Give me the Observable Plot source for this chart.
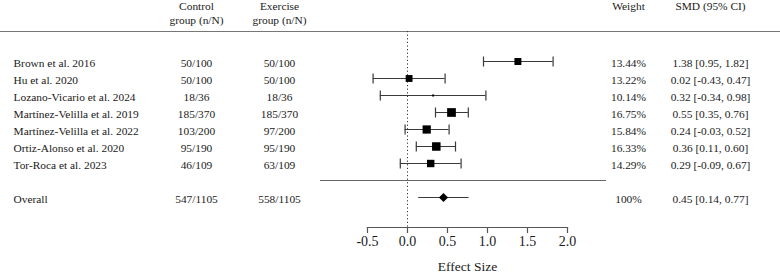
<!DOCTYPE html>
<html>
<head>
<meta charset="utf-8">
<script src="https://cdn.jsdelivr.net/npm/d3@7"></script>
<script src="https://cdn.jsdelivr.net/npm/@observablehq/plot@0.6"></script>
<style>
  html, body { margin: 0; padding: 0; background: #fff; }
  #chart { width: 780px; height: 274px; }
  #chart svg, #chart svg text { font-family: "Liberation Serif", "Times New Roman", serif !important; }
</style>
</head>
<body>
<div id="chart"></div>
<script>
const studies = ["Brown et al. 2016", "Hu et al. 2020", "Lozano-Vicario et al. 2024", "Martínez-Velilla et al. 2019", "Martínez-Velilla et al. 2022", "Ortiz-Alonso et al. 2020", "Tor-Roca et al. 2023"];
const controlN = ["50/100", "50/100", "18/36", "185/370", "103/200", "95/190", "46/109"];
const exerciseN = ["50/100", "50/100", "18/36", "185/370", "97/200", "95/190", "63/109"];
const weights = [13.44, 13.22, 10.14, 16.75, 15.84, 16.33, 14.29];
const smd = [1.38, 0.02, 0.32, 0.55, 0.24, 0.36, 0.29];
const lower = [0.95, -0.43, -0.34, 0.35, -0.03, 0.11, -0.09];
const upper = [1.82, 0.47, 0.98, 0.76, 0.52, 0.60, 0.67];

const overallLabel = "Overall";
const overallControl = "547/1105";
const overallExercise = "558/1105";
const overallWeight = "100%";
const overallSmd = 0.45;
const overallLower = 0.14;
const overallUpper = 0.77;

const xTicks = [-0.5, 0.0, 0.5, 1.0, 1.5, 2.0];
const xLabel = "Effect Size";
const headerControl = ["Control", "group (n/N)"];
const headerExercise = ["Exercise", "group (n/N)"];
const headerWeight = ["Weight"];
const headerSmd = ["SMD (95% CI)"];

const sepKey = "__sep__";
const fmt2 = v => v.toFixed(2);
const ciText = (m, l, u) => `${fmt2(m)} [${fmt2(l)}, ${fmt2(u)}]`;

const rows = studies.map((s, i) => ({
  label: s, control: controlN[i], exercise: exerciseN[i],
  weight: weights[i], weightText: weights[i].toFixed(2) + "%",
  smd: smd[i], lower: lower[i], upper: upper[i],
  ci: ciText(smd[i], lower[i], upper[i])
}));
const overall = {
  label: overallLabel, control: overallControl, exercise: overallExercise,
  weightText: overallWeight, smd: overallSmd, lower: overallLower, upper: overallUpper,
  ci: ciText(overallSmd, overallLower, overallUpper)
};
const allRows = [...rows, overall];
const yDomain = [...studies, sepKey, overallLabel];

const serif = "Liberation Serif";
const txt = "#1a1a1a";
const lineCol = "#3a3a3a";
const fs = 11.4;

// vertical cap symbol for CI whisker ends
const capSymbol = {draw(ctx) { ctx.moveTo(0, -5); ctx.lineTo(0, 5); }};

const topRule = (index, scales, values, dims) =>
  d3.create("svg:line")
    .attr("x1", 0).attr("x2", dims.width)
    .attr("y1", dims.marginTop + 0.5).attr("y2", dims.marginTop + 0.5)
    .attr("stroke", "#777").attr("stroke-width", 1.2)
    .node();

const colText = (data, field, anchorSide, dx) =>
  Plot.text(data, {y: "label", text: field, frameAnchor: anchorSide, dx, textAnchor: field === "label" ? "start" : "middle", fill: txt, fontSize: fs, fontFamily: serif, dy: 1.5});

const headText = (lines, side, dx, dy) =>
  Plot.text(lines, {text: d => d, frameAnchor: side, dx, dy, textAnchor: "middle", lineAnchor: "middle", fill: txt, fontSize: fs, fontFamily: serif});

const chart = Plot.plot({
  width: 780,
  height: 274,
  marginLeft: 367,
  marginRight: 213,
  marginTop: 31,
  marginBottom: 47,
  style: {fontFamily: serif, fontSize: fs + "px", color: txt, background: "#fff"},
  x: {domain: [-0.5, 2.0], axis: null},
  y: {type: "point", domain: yDomain, range: [50.5, 207.7], axis: null},
  r: {type: "linear", domain: [10, 13, 17], range: [1, 3.8, 5], clamp: true},
  marks: [
    topRule,
    Plot.ruleX([0], {stroke: "#333", strokeDasharray: "1.2,2.4", strokeWidth: 1}),
    Plot.ruleY([sepKey], {y: d => d, insetLeft: -47, insetRight: -39, stroke: "#666", strokeWidth: 1.2}),
    // whiskers
    Plot.ruleY(rows, {y: "label", x1: "lower", x2: "upper", stroke: lineCol, strokeWidth: 1.2}),
    Plot.dot(rows, {y: "label", x: "lower", symbol: capSymbol, r: 3, stroke: lineCol, strokeWidth: 1.2, fill: "none"}),
    Plot.dot(rows, {y: "label", x: "upper", symbol: capSymbol, r: 3, stroke: lineCol, strokeWidth: 1.2, fill: "none"}),
    Plot.dot(rows, {y: "label", x: "smd", r: "weight", symbol: "square", fill: "#000", stroke: null}),
    Plot.ruleY([overall], {y: "label", x1: "lower", x2: "upper", stroke: lineCol, strokeWidth: 1.2}),
    Plot.dot([overall], {y: "label", x: "smd", r: 4.1, symbol: "diamond2", fill: "#000", stroke: null}),
    // axis
    Plot.frame({anchor: "bottom", stroke: "#555", strokeWidth: 1.2}),
    Plot.axisX({ticks: xTicks, tickFormat: d => d.toFixed(1), tickSize: 6, tickPadding: 3, fontSize: 14, fontFamily: serif, stroke: "#555", strokeWidth: 1.2, fill: txt, label: null}),
    Plot.text([xLabel], {frameAnchor: "bottom", dy: 39, fontSize: 13.5, fontFamily: serif, fill: txt, lineAnchor: "middle"}),
    // table columns
    colText(allRows, "label", "left", 13 - 367),
    colText(allRows, "control", "left", 196 - 367),
    colText(allRows, "exercise", "left", 279 - 367),
    colText(allRows, "weightText", "right", 628 - 567),
    colText(allRows, "ci", "right", 710 - 567),
    // headers
    headText([headerControl[0]], "top-left", 196 - 367, -25),
    headText([headerControl[1]], "top-left", 196 - 367, -11),
    headText([headerExercise[0]], "top-left", 279 - 367, -25),
    headText([headerExercise[1]], "top-left", 279 - 367, -11),
    headText(headerWeight, "top-right", 628 - 567, -25),
    headText(headerSmd, "top-right", 710 - 567, -25)
  ]
});
document.getElementById("chart").append(chart);
</script>
</body>
</html>
